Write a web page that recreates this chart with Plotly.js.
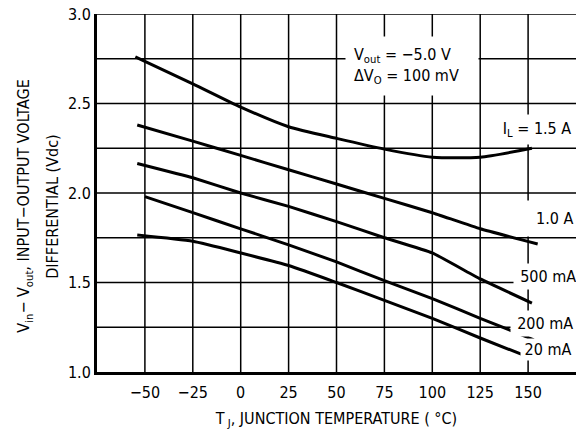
<!DOCTYPE html>
<html>
<head>
<meta charset="utf-8">
<script src="https://cdn.plot.ly/plotly-3.0.1.min.js"></script>
<style>
html,body{margin:0;padding:0;background:#fff;}#chart{width:576px;height:432px;}
#chart svg text { font-stretch: condensed !important; }
</style>
</head>
<body>
<div id="chart"></div>
<script>
// Data (T_J in °C, Vin-Vout in Vdc)
const t15 = [-55, -25, 0, 25, 50, 75, 100, 125, 152];
const v15 = [2.76, 2.61, 2.48, 2.37, 2.305, 2.245, 2.20, 2.20, 2.25];
const t10 = [-54, -25, 0, 25, 50, 75, 100, 125, 155];
const v10 = [2.38, 2.29, 2.21, 2.13, 2.05, 1.97, 1.89, 1.80, 1.715];
const t500 = [-54, -25, 0, 25, 50, 75, 100, 125, 152];
const v500 = [2.165, 2.085, 2.0, 1.925, 1.84, 1.75, 1.665, 1.52, 1.385];
const t200 = [-50, -25, 0, 25, 50, 75, 100, 125, 153];
const v200 = [1.98, 1.89, 1.80, 1.71, 1.615, 1.51, 1.41, 1.30, 1.18];
const t20 = [-54, -25, 0, 25, 50, 75, 100, 125, 151];
const v20 = [1.765, 1.73, 1.665, 1.595, 1.50, 1.40, 1.30, 1.19, 1.08];

const xTicks = [-50, -25, 0, 25, 50, 75, 100, 125, 150];
const yTicks = [1.0, 1.5, 2.0, 2.5, 3.0];
const yGrid = [1.25, 1.5, 1.75, 2.0, 2.25, 2.5, 2.75, 3.0];
const xRange = [-75, 175];
const yRange = [1.0, 3.0];
const curveLabels = ["I<sub>L</sub> = 1.5 A", "1.0 A", "500 mA", "200 mA", "20 mA"];

const FONT = "DejaVu Sans";

function curve(x, y, smooth) {
  return {x: x, y: y, type: 'scatter', mode: 'lines',
    line: {color: '#000', width: 3, shape: 'spline', smoothing: smooth},
    hoverinfo: 'skip', showlegend: false};
}

// grid built from the tick arrays, drawn as one line trace on the data scales
const gx = [], gy = [];
xTicks.forEach(v => { gx.push(v, v, null); gy.push(yRange[0], yRange[1], null); });
yGrid.forEach(v => { gx.push(xRange[0], xRange[1], null); gy.push(v, v, null); });

const data = [
  {x: gx, y: gy, type: 'scatter', mode: 'lines', line: {color: '#000', width: 1.5},
   hoverinfo: 'skip', showlegend: false, connectgaps: false, cliponaxis: false},
  curve(t15, v15, 0.6),
  curve(t10, v10, 0.3),
  curve(t500, v500, 0.3),
  curve(t200, v200, 0.3),
  curve(t20, v20, 0.5)
];

function lab(text, x, y, pad) {
  return {text: text, x: x, y: y, xref: 'x', yref: 'y', showarrow: false,
    font: {family: FONT, size: 16, color: '#000'}, bgcolor: '#fff', borderpad: pad};
}

const layout = {
  width: 576, height: 432,
  margin: {l: 97, r: 0, t: 14, b: 60},
  paper_bgcolor: '#fff', plot_bgcolor: '#fff',
  font: {family: FONT, size: 16, color: '#000'},
  xaxis: {
    range: xRange, tickmode: 'array', tickvals: xTicks,
    ticks: 'outside', ticklen: 4, tickcolor: '#ffffff', tickwidth: 0.01,
    showgrid: false,
    showline: true, linecolor: '#000000', linewidth: 3, zeroline: false,
    tickfont: {family: FONT, size: 16},
    title: {text: 'T<sub> J</sub>, JUNCTION TEMPERATURE ( °C)', font: {family: FONT, size: 16}, standoff: 12}
  },
  yaxis: {
    range: yRange, tickmode: 'array', tickvals: yTicks, tickformat: '.1f',
    showgrid: false,
    showline: true, linecolor: '#000000', linewidth: 3, zeroline: false,
    tickfont: {family: FONT, size: 16}
  },
  annotations: [
    {text: 'V<sub>in</sub>− V<sub>out</sub>, INPUT−OUTPUT VOLTAGE', xref: 'paper', yref: 'paper',
     x: -0.15, y: 0.464, xanchor: 'center', yanchor: 'middle', textangle: -90, showarrow: false, font: {family: FONT, size: 16}},
    {text: 'DIFFERENTIAL (Vdc)', xref: 'paper', yref: 'paper',
     x: -0.092, y: 0.464, xanchor: 'center', yanchor: 'middle', textangle: -90, showarrow: false, font: {family: FONT, size: 16}},
    {text: 'V<sub>out</sub> = −5.0 V<br>ΔV<sub>O</sub> = 100 mV', x: 89.5, y: 2.71, xref: 'x', yref: 'y',
     showarrow: false, align: 'left', font: {family: FONT, size: 16}, bgcolor: '#fff', borderpad: 8},
    lab(curveLabels[0], 154.6, 2.352, 4),
    lab(curveLabels[1], 164, 1.86, 8),
    lab(curveLabels[2], 160.5, 1.535, 3),
    lab(curveLabels[3], 158.8, 1.272, 3),
    lab(curveLabels[4], 160.4, 1.123, 1)
  ]
};

Plotly.newPlot('chart', data, layout, {displayModeBar: false});
</script>
</body>
</html>
